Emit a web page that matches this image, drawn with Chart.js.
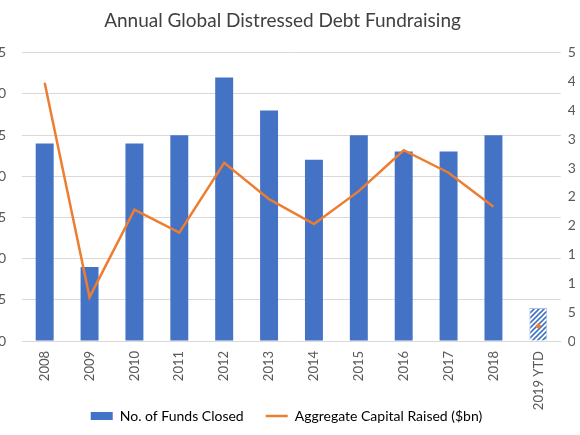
<!DOCTYPE html>
<html>
<head>
<meta charset="utf-8">
<script src="https://cdn.jsdelivr.net/npm/chart.js@4.4.1/dist/chart.umd.min.js"></script>
<style>
  html, body { margin: 0; padding: 0; background: #fff; overflow: hidden; }
  #clip { position: absolute; left: 0; top: 0; width: 575px; height: 435px; overflow: hidden; }
  #wrap { position: absolute; left: -32px; top: 0; width: 630px; height: 435px; }
</style>
</head>
<body>
<div id="clip"><div id="wrap"><canvas id="chart"></canvas></div></div>
<script>
const years = ['2008', '2009', '2010', '2011', '2012', '2013', '2014', '2015', '2016', '2017', '2018', '2019 YTD'];
const fundsClosed = [24, 9, 24, 25, 32, 28, 22, 25, 23, 23, 25, 4];
const capitalRaised = [44.8, 7.6, 22.8, 18.8, 30.9, 24.6, 20.3, 26.0, 33.1, 29.2, 23.3, 2.6];
const leftTicks = [0, 5, 10, 15, 20, 25, 30, 35];
const rightTicks = [0, 5, 10, 15, 20, 25, 30, 35, 40, 45, 50];

const blue = '#4472C4';
const orange = '#ED7D31';
const textGrey = '#595959';
const fontFamily = 'Lato, "Open Sans", sans-serif';

// hatched fill for the year-to-date bar
function makeHatch() {
  const c = document.createElement('canvas');
  c.width = 5;
  c.height = 5;
  const g = c.getContext('2d');
  g.fillStyle = '#ffffff';
  g.fillRect(0, 0, 5, 5);
  g.strokeStyle = blue;
  g.lineWidth = 1.6;
  g.beginPath();
  g.moveTo(-1, 6); g.lineTo(6, -1);
  g.moveTo(-1, 1); g.lineTo(1, -1);
  g.moveTo(4, 6); g.lineTo(6, 4);
  g.stroke();
  return g.createPattern(c, 'repeat');
}
const hatch = makeHatch();
const lastIdx = years.length - 1;

// x labels overlap the legend band, so let them draw past the axis box;
// nudge the legend to sit where the original one does
const layoutTweaks = {
  id: 'layoutTweaks',
  afterLayout(chart) {
    chart.scales.x.bottom = chart.height;
    chart.legend.left += 4;
    chart.legend.right += 4;
  }
};

const ctx = document.getElementById('chart').getContext('2d');
new Chart(ctx, {
  plugins: [layoutTweaks],
  data: {
    labels: years,
    datasets: [
      {
        type: 'line',
        label: 'Aggregate Capital Raised ($bn)',
        data: capitalRaised,
        yAxisID: 'y1',
        borderColor: orange,
        backgroundColor: orange,
        borderWidth: 2.5,
        tension: 0,
        pointStyle: 'rectRot',
        pointRadius: years.map((y, i) => i === lastIdx ? 3 : 0),
        pointBorderWidth: 0,
        segment: {
          borderColor: s => s.p1DataIndex === lastIdx ? 'transparent' : orange
        },
        order: 0
      },
      {
        type: 'bar',
        label: 'No. of Funds Closed',
        data: fundsClosed,
        yAxisID: 'y',
        backgroundColor: years.map((y, i) => i === lastIdx ? hatch : blue),
        borderColor: years.map((y, i) => i === lastIdx ? '#a9bfe6' : blue),
        borderWidth: years.map((y, i) => i === lastIdx ? 1 : 0),
        categoryPercentage: 1,
        barPercentage: 0.4,
        order: 1
      }
    ]
  },
  options: {
    responsive: true,
    maintainAspectRatio: false,
    animation: false,
    layout: { padding: { left: 6, right: 7, top: 0, bottom: 2 } },
    plugins: {
      title: {
        display: true,
        text: 'Annual Global Distressed Debt Fundraising',
        color: '#404040',
        font: { family: fontFamily, size: 19, weight: 'normal' },
        padding: { top: 9, bottom: 21 }
      },
      legend: {
        position: 'bottom',
        labels: {
          color: textGrey,
          font: { family: fontFamily, size: 14 },
          usePointStyle: true,
          pointStyleWidth: 22,
          boxHeight: 8,
          padding: 22,
          generateLabels: () => [
            { text: 'No. of Funds Closed', fillStyle: blue, strokeStyle: blue, lineWidth: 0, pointStyle: 'rect', datasetIndex: 1 },
            { text: 'Aggregate Capital Raised ($bn)', fillStyle: orange, strokeStyle: orange, lineWidth: 2.5, pointStyle: 'line', datasetIndex: 0 }
          ]
        }
      },
      tooltip: { enabled: false }
    },
    scales: {
      x: {
        grid: { display: false, drawTicks: false },
        border: { color: '#d9d9d9', width: 1 },
        ticks: {
          color: textGrey,
          font: { family: fontFamily, size: 13 },
          minRotation: 90,
          maxRotation: 90,
          padding: 10,
          autoSkip: false
        },
        afterFit: scale => { scale.height = 46; }
      },
      y: {
        position: 'left',
        min: 0,
        max: 35,
        afterBuildTicks: axis => { axis.ticks = leftTicks.map(v => ({ value: v })); },
        grid: { color: '#d9d9d9', lineWidth: 1, drawTicks: false },
        border: { display: false },
        ticks: {
          color: textGrey,
          font: { family: fontFamily, size: 14 },
          padding: 16
        }
      },
      y1: {
        position: 'right',
        min: 0,
        max: 50,
        afterBuildTicks: axis => { axis.ticks = rightTicks.map(v => ({ value: v })); },
        grid: { display: false, drawTicks: false },
        border: { display: false },
        ticks: {
          color: textGrey,
          font: { family: fontFamily, size: 14 },
          padding: 7
        }
      }
    }
  }
});
</script>
</body>
</html>
